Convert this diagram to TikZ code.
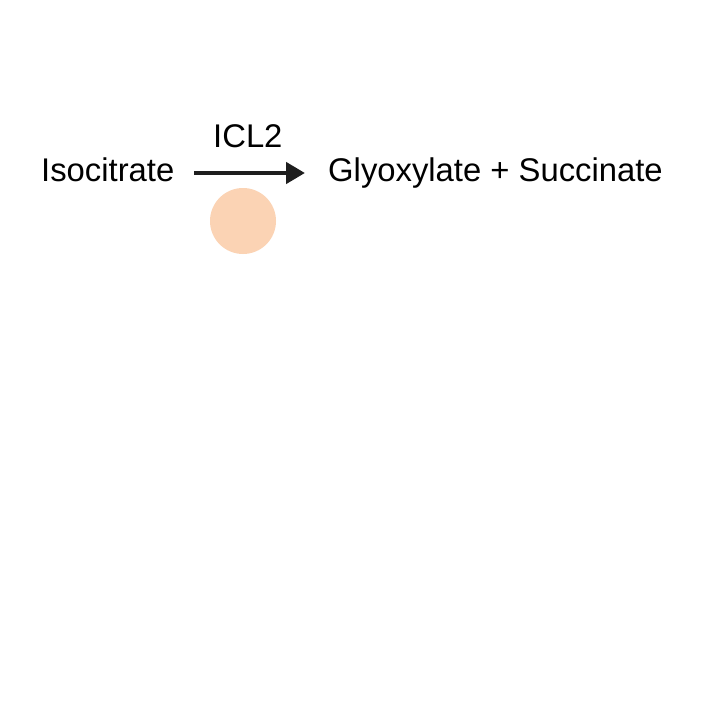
\documentclass[tikz,border=0pt]{standalone}
\usepackage{fontspec}
\setmainfont{Liberation Sans}
\usetikzlibrary{arrows.meta}
\definecolor{peach}{RGB}{251,211,180}
\definecolor{ink}{RGB}{30,30,30}
\begin{document}
\begin{tikzpicture}[x=1pt,y=-1pt,
  lbl/.style={inner sep=0pt,anchor=base west,font=\fontsize{32.8}{38}\selectfont,text=black},
  rxn/.style={draw=ink,line width=4.5pt,-{Triangle[length=19pt,width=21pt]}}]
\useasboundingbox (0,0) rectangle (725,707);
\fill[white] (0,0) rectangle (725,707);
\node[lbl] (iso) at (41,181) {Isocitrate};
\node[lbl] (enz) at (213,147) {ICL2};
\node[lbl] (prod) at (328,181) {Glyoxylate + Succinate};
\coordinate (a1) at (194,173);
\coordinate (a2) at (305,173);
\draw[rxn] (a1) -- (a2);
\node[circle,fill=peach,minimum size=66pt,inner sep=0pt] (dot) at (243,221) {};
\end{tikzpicture}
\end{document}
